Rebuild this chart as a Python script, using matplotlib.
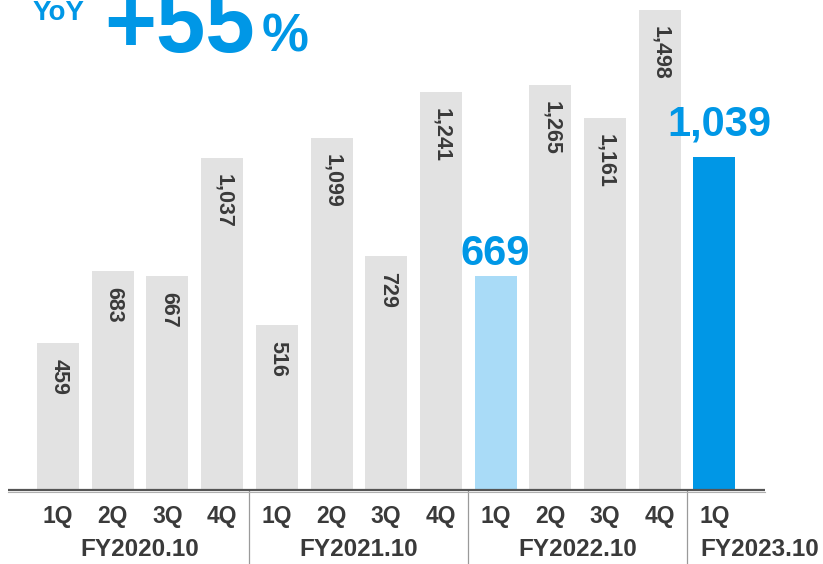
import matplotlib
matplotlib.use("Agg")
import matplotlib.pyplot as plt

# quarterly values, FY2020.10 1Q .. FY2023.10 1Q
quarters = ["1Q", "2Q", "3Q", "4Q", "1Q", "2Q", "3Q", "4Q",
            "1Q", "2Q", "3Q", "4Q", "1Q"]
values = [459, 683, 667, 1037, 516, 1099, 729, 1241,
          669, 1265, 1161, 1498, 1039]
fiscal_years = ["FY2020.10", "FY2021.10", "FY2022.10", "FY2023.10"]
yoy_growth = 55

GRAY = "#e2e2e2"
LIGHT_BLUE = "#a9dbf7"
BLUE = "#0097e6"
TEXT = "#3a3a3a"
FONT = ["Liberation Sans", "DejaVu Sans"]

W, H = 823, 564
fig = plt.figure(figsize=(W / 100, H / 100), dpi=100)
ax = fig.add_axes([0, 0, 1, 1])
ax.axis("off")

# pixel mapping: bar centers start at x=58 with 54.7px pitch, baseline at y=490
pitch = 54.7
x0 = 58
scale = 0.3204  # px per unit
base = 490
ax.set_xlim(-x0 / pitch, (W - x0) / pitch)
ax.set_ylim(-(H - base) / scale, base / scale)

colors = [GRAY] * len(values)
colors[8] = LIGHT_BLUE
colors[12] = BLUE
xs = list(range(len(values)))
ax.bar(xs, values, width=42 / pitch, color=colors, zorder=2)

# value labels: highlighted quarters get big blue numbers above the bar
highlight_gap = {8: 2, 12: 13}
for i, v in enumerate(values):
    txt = f"{v:,}"
    if i in highlight_gap:
        ax.text(i + (0.1 if i == 12 else 0), v + highlight_gap[i] / scale, txt,
                ha="center", va="bottom", fontsize=30, fontweight="bold",
                color=BLUE, family=FONT)
    else:
        ax.text(i + 0.02, v - 16 / scale, txt, ha="center", va="top",
                rotation=-90, fontsize=15.5, fontweight="bold",
                color=TEXT, family=FONT)

# baseline
ax.plot([-50 / pitch, (765 - x0) / pitch], [0, 0], color="#555555",
        lw=1.6, zorder=3, solid_capstyle="butt")
ax.plot([-50 / pitch, (765 - x0) / pitch], [-1.6 / scale] * 2,
        color="#b0b0b0", lw=0.8, zorder=3)

# fiscal year separators
for b in (3.5, 7.5, 11.5):
    ax.plot([b, b], [0, -(H - base) / scale], color="#9a9a9a", lw=0.9)

# quarter labels
for i, q in enumerate(quarters):
    ax.text(i, -26 / scale, q, ha="center", va="center", fontsize=16.5,
            fontweight="bold", color=TEXT, family=FONT)

# fiscal year labels
fy_pos = [1.5, 5.5, 9.5]
for p, fy in zip(fy_pos, fiscal_years[:3]):
    ax.text(p, -60 / scale, fy, ha="center", va="center", fontsize=17.5,
            fontweight="bold", color=TEXT, family=FONT)
ax.text(11.74, -60 / scale, fiscal_years[3], ha="left", va="center",
        fontsize=17.5, fontweight="bold", color=TEXT, family=FONT)

# YoY headline at top
fig.text(33 / W, 1 - 20 / H, "YoY", ha="left", va="baseline", fontsize=20,
         fontweight="bold", color=BLUE, family=FONT)
fig.text(104 / W, 1 - 52 / H, f"+{yoy_growth}", ha="left", va="baseline",
         fontsize=64, fontweight="bold", color=BLUE, family=FONT)
fig.text(262 / W, 1 - 52 / H, "%", ha="left", va="baseline", fontsize=38,
         fontweight="bold", color=BLUE, family=FONT)

fig.savefig("out.png", dpi=100)
